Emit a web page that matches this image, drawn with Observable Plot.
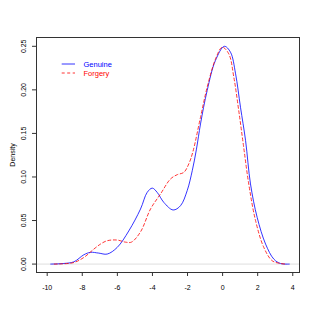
<!DOCTYPE html>
<html><head><meta charset="utf-8">
<script src="https://cdn.jsdelivr.net/npm/d3@7"></script>
<script src="https://cdn.jsdelivr.net/npm/@observablehq/plot@0.6"></script>
<style>body{margin:0;background:#fff}#chart{width:319px;height:319px}</style>
</head><body><div id="chart"></div>
<script>
const genuineX = [-9.8,-9.05,-8.48,-7.91,-7.53,-7.06,-6.58,-6.01,-5.35,-4.68,-4.30,-4.01,-3.73,-3.35,-2.82,-2.40,-2.02,-1.73,-1.49,-1.26,-0.88,-0.41,0.10,0.45,0.74,1.02,1.31,1.59,1.97,2.45,2.92,3.30,3.8];
const genuineDensity = [0,0.0007,0.0026,0.0107,0.0135,0.0126,0.0115,0.0191,0.038,0.0632,0.0823,0.0872,0.0823,0.0708,0.0621,0.0670,0.0843,0.1072,0.1320,0.1609,0.1992,0.2336,0.2500,0.2432,0.2184,0.1800,0.1417,0.0920,0.0536,0.0230,0.0057,0.0007,0];
const forgeryX = [-9.6,-9.24,-8.48,-7.91,-7.34,-6.96,-6.58,-6.01,-5.54,-5.2,-4.68,-4.11,-3.54,-2.97,-2.59,-2.21,-1.93,-1.70,-1.26,-0.88,-0.40,-0.02,0.35,0.64,0.92,1.19,1.49,1.88,2.35,2.83,3.30,3.6];
const forgeryDensity = [0,0.0002,0.0018,0.0076,0.0172,0.0230,0.0268,0.0276,0.0252,0.0252,0.037,0.0632,0.0805,0.0977,0.1026,0.1053,0.1149,0.1285,0.1685,0.2030,0.2356,0.2490,0.2414,0.2145,0.1762,0.1360,0.0920,0.0498,0.0191,0.0038,0.0007,0];
const xTicks = [-10,-8,-6,-4,-2,0,2,4];
const yTicks = [0,0.05,0.10,0.15,0.20,0.25];
const seriesNames = ["Genuine","Forgery"];
const seriesColors = ["blue","red"];

const genuine = genuineX.map((x,i)=>({x, y: genuineDensity[i]}));
const forgery = forgeryX.map((x,i)=>({x, y: forgeryDensity[i]}));

const chart = Plot.plot({
  width: 319, height: 319,
  marginLeft: 36, marginRight: 20, marginTop: 37, marginBottom: 47,
  x: {domain: [-10.61, 4.384]},
  y: {domain: [-0.00966, 0.2601]},
  style: {fontFamily: "'Liberation Sans', Arial, sans-serif", fontSize: "7px", background: "white", color: "black"},
  marks: [
    Plot.ruleY([0], {stroke: "#c8c8c8", strokeWidth: 0.6}),
    Plot.line(genuine, {x: "x", y: "y", stroke: seriesColors[0], strokeWidth: 0.8, curve: "catmull-rom"}),
    Plot.line(forgery, {x: "x", y: "y", stroke: seriesColors[1], strokeWidth: 0.8, strokeDasharray: "3,2.5", curve: "catmull-rom"}),
    Plot.frame({stroke: "#333"}),
    Plot.axisX({ticks: xTicks, tickSize: 4, tickPadding: 8.5, tickFormat: d => String(d), label: null, stroke: "#333"}),
    Plot.axisY({ticks: yTicks, tickSize: 4, tickFormat: () => "", label: null, stroke: "#333"}),
    Plot.text(yTicks, {y: d => d, frameAnchor: "left", dx: -12.7, rotate: -90, text: d => d.toFixed(2), textAnchor: "middle", fill: "black"}),
    Plot.text(["Density"], {frameAnchor: "left", dx: -24, rotate: -90, textAnchor: "middle", fill: "black"}),
    Plot.text([seriesNames[0]], {frameAnchor: "top-left", dx: 47, dy: 27, lineAnchor: "middle", textAnchor: "start", fill: seriesColors[0], fontSize: 7.5}),
    Plot.text([seriesNames[1]], {frameAnchor: "top-left", dx: 47, dy: 36, lineAnchor: "middle", textAnchor: "start", fill: seriesColors[1], fontSize: 7.5})
  ]
});
const svg = d3.select(chart);
svg.append("line").attr("x1", 61.7).attr("x2", 75).attr("y1", 64).attr("y2", 64).attr("stroke", seriesColors[0]).attr("stroke-width", 0.8);
svg.append("line").attr("x1", 61.7).attr("x2", 75).attr("y1", 73).attr("y2", 73).attr("stroke", seriesColors[1]).attr("stroke-width", 0.8).attr("stroke-dasharray", "3,2.5");
document.getElementById("chart").appendChild(chart);
</script></body></html>
